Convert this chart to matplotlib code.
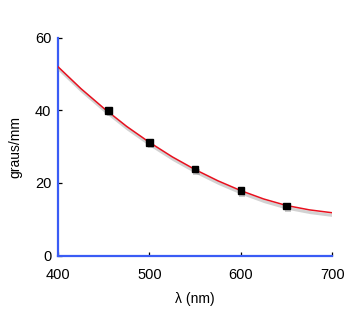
import numpy as np
import matplotlib
matplotlib.use("Agg")
import matplotlib.pyplot as plt
import matplotlib.patheffects as pe

plt.rcParams['font.family'] = ['Liberation Sans', 'DejaVu Sans']

# measured points
wl = [455, 500, 550, 600, 650]
deg_mm = [40.0, 31.2, 23.8, 17.9, 13.6]

# fitted curve
curve_wl = [400, 425, 450, 475, 500, 525, 550, 575, 600, 625, 650, 675, 700]
curve_deg = [52.0, 46.0, 40.6, 35.6, 31.2, 27.2, 23.7, 20.6, 17.9, 15.6, 13.8, 12.6, 11.8]

xticks = [400, 500, 600, 700]
yticks = [0, 20, 40, 60]

fig = plt.figure(figsize=(3.5, 3.26), dpi=100)
ax = fig.add_axes([0.166, 0.216, 0.783, 0.668])

shadow = [pe.SimpleLineShadow(offset=(1, -2), shadow_color='#909090', alpha=0.4, linewidth=2.2),
          pe.Normal()]
ax.plot(curve_wl, curve_deg, color='#e8101e', lw=1.1, path_effects=shadow, zorder=3)
ax.plot(wl, deg_mm, 's', color='black', ms=4.6, zorder=4,
        path_effects=[pe.SimplePatchShadow(offset=(1, -2), shadow_rgbFace='#808080', alpha=0.4), pe.Normal()])

ax.set_xlim(400, 700)
ax.set_ylim(0, 60)
ax.set_xticks(xticks)
ax.set_yticks(yticks)

for s in ['top', 'right']:
    ax.spines[s].set_visible(False)
for s in ['left', 'bottom']:
    ax.spines[s].set_color('#3a5cf5')
    ax.spines[s].set_linewidth(1.6)

ax.tick_params(axis='both', direction='in', length=3, width=0.9, color='black', labelsize=10.5)
ax.tick_params(axis='x', pad=9)
ax.tick_params(axis='y', pad=5)

ax.set_xlabel('λ (nm)', fontsize=10, labelpad=7)
ax.set_ylabel('graus/mm', fontsize=10, labelpad=9)

fig.savefig('out.png', dpi=100)
